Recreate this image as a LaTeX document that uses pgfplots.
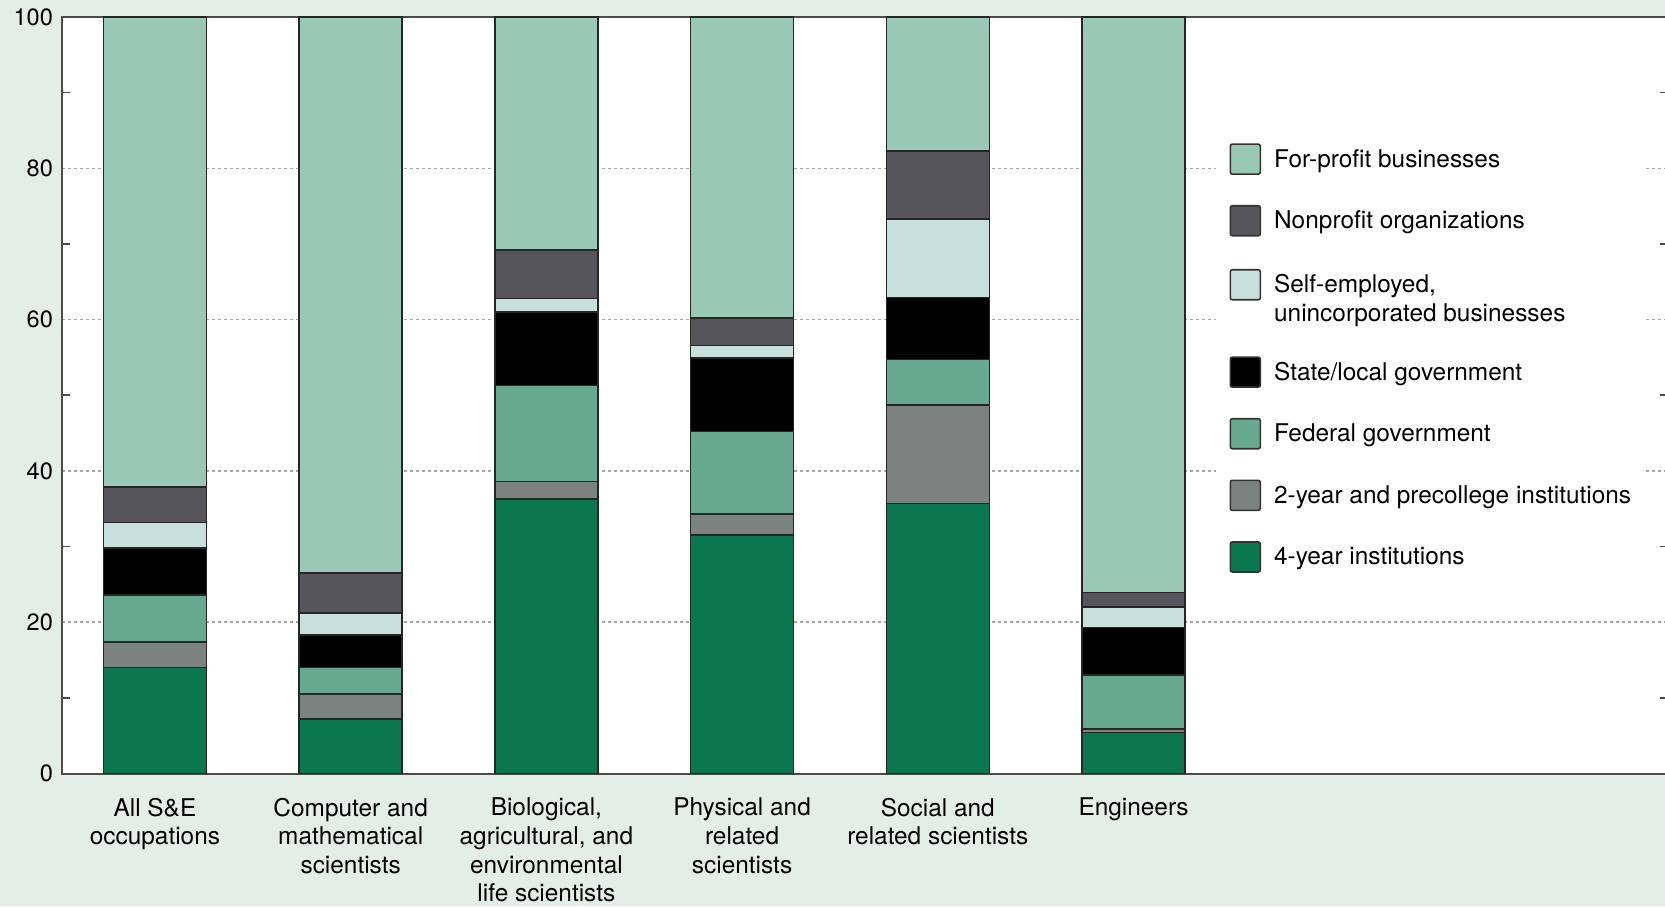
\documentclass[border=0pt]{standalone}
\usepackage{fontspec}
\setmainfont{TeX Gyre Heros}
\usepackage{pgfplots}
\pgfplotsset{compat=1.18}

\definecolor{bgpanel}{RGB}{228,238,233}
\definecolor{forprofit}{RGB}{154,200,182}
\definecolor{nonprofit}{RGB}{85,85,91}
\definecolor{selfemp}{RGB}{200,224,219}
\definecolor{stategov}{RGB}{0,0,0}
\definecolor{fedgov}{RGB}{102,168,144}
\definecolor{twoyear}{RGB}{124,130,128}
\definecolor{fouryear}{RGB}{11,119,80}
\definecolor{gridgray}{RGB}{165,165,165}

\begin{document}
\begin{tikzpicture}
% panel background, 1665x906 px at 0.5pt per px
\fill[bgpanel] (-31pt,-66.25pt) rectangle (801.5pt,386.75pt);
\path[use as bounding box] (-31pt,-66.25pt) rectangle (801.5pt,386.75pt);
\begin{axis}[
    at={(0pt,0pt)}, anchor=south west,
    scale only axis,
    width=803pt, height=378.25pt,
    axis background/.style={fill=white},
    ybar stacked, bar width=51.5pt,
    xmin=-0.475, xmax=7.731,
    ymin=0, ymax=100,
    xtick={0,...,5},
    xticklabels={{All S\&E\\occupations},
                 {Computer and\\mathematical\\scientists},
                 {Biological,\\agricultural, and\\environmental\\life scientists},
                 {Physical and\\related\\scientists},
                 {Social and\\related scientists},
                 {Engineers}},
    ytick={0,20,...,100},
    minor ytick={10,30,...,90},
    major tick length=0pt,
    minor tick length=4pt,
    minor tick style={black!70, line width=0.8pt},
    ymajorgrids,
    major grid style={gridgray, line width=0.8pt, dash pattern=on 1.3pt off 1.7pt},
    axis line style={black!70, line width=1pt},
    /pgf/number format/assume math mode=true,
    xticklabel style={align=center, anchor=north, inner sep=0pt, yshift=-12pt,
        font=\fontsize{12.2}{14.35}\selectfont},
    yticklabel style={font=\fontsize{11.8}{14}\selectfont, xshift=-1pt},
    legend image code/.code={\draw[#1, draw=black!80, line width=0.8pt, rounded corners=1pt]
        (0pt,-3.5pt) rectangle (15pt,11.5pt);},
    reverse legend,
    legend style={at={(axis description cs:0.718,0.852)}, anchor=north west,
        draw=none, fill=white, inner sep=7pt,
        row sep=15pt, column sep=6.5pt,
        cells={anchor=base west},
        nodes={inner sep=0pt, font=\fontsize{12.2}{14.35}\selectfont}},
]
\addplot[fill=fouryear, draw=black!85, line width=0.75pt]
    coordinates {(0,14.0) (1,7.2) (2,36.3) (3,31.5) (4,35.7) (5,5.4)};
\addplot[fill=twoyear, draw=black!85, line width=0.75pt]
    coordinates {(0,3.4) (1,3.3) (2,2.3) (3,2.8) (4,13.0) (5,0.5)};
\addplot[fill=fedgov, draw=black!85, line width=0.75pt]
    coordinates {(0,6.2) (1,3.5) (2,12.7) (3,10.9) (4,6.0) (5,7.1)};
\addplot[fill=stategov, draw=black!85, line width=0.75pt]
    coordinates {(0,6.2) (1,4.3) (2,9.7) (3,9.7) (4,8.2) (5,6.3)};
\addplot[fill=selfemp, draw=black!85, line width=0.75pt]
    coordinates {(0,3.4) (1,2.9) (2,1.8) (3,1.7) (4,10.4) (5,2.7)};
\addplot[fill=nonprofit, draw=black!85, line width=0.75pt]
    coordinates {(0,4.7) (1,5.3) (2,6.4) (3,3.6) (4,9.0) (5,1.9)};
\addplot[fill=forprofit, draw=black!85, line width=0.75pt]
    coordinates {(0,62.1) (1,73.5) (2,30.8) (3,39.8) (4,17.7) (5,76.1)};
\legend{4-year institutions,
        2-year and precollege institutions,
        Federal government,
        {\rule{0pt}{24.8pt}State/local government},
        {\rule{0pt}{13.1pt}\begin{tabular}[t]{@{}l@{}}Self-employed,\\unincorporated businesses\end{tabular}},
        Nonprofit organizations,
        For-profit businesses}
\end{axis}
\end{tikzpicture}
\end{document}
